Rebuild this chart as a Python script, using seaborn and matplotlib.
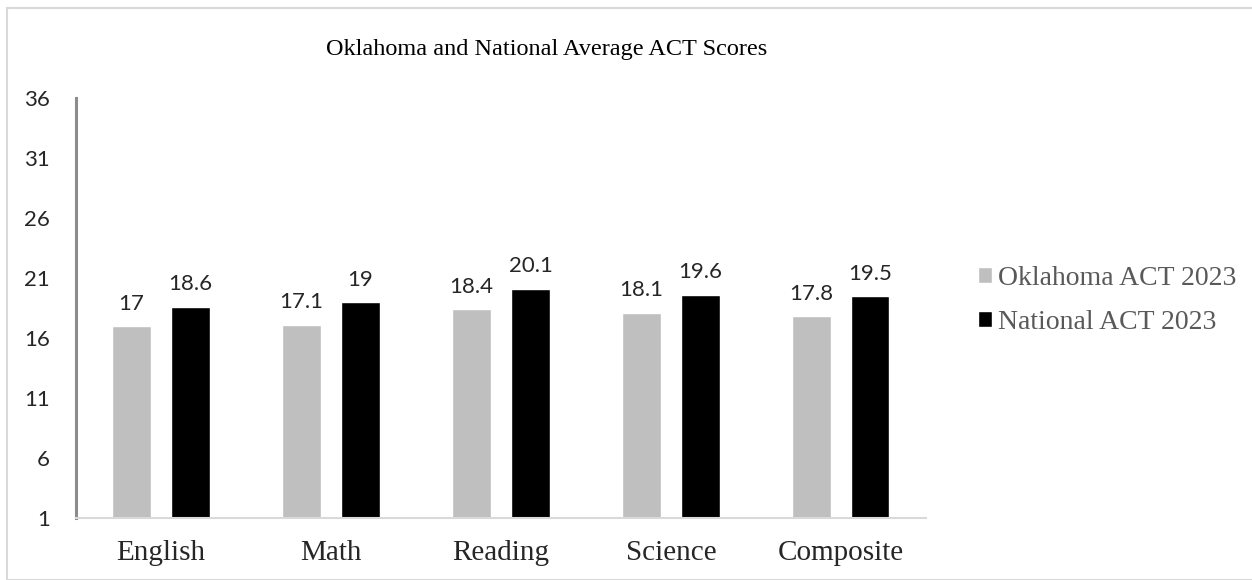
import matplotlib.pyplot as plt
import seaborn as sns
import pandas as pd
from matplotlib.patches import Rectangle

# chart data
subjects = ["English", "Math", "Reading", "Science", "Composite"]
oklahoma = [17, 17.1, 18.4, 18.1, 17.8]
national = [18.6, 19, 20.1, 19.6, 19.5]
series_names = ["Oklahoma ACT 2023", "National ACT 2023"]
y_ticks = [1, 6, 11, 16, 21, 26, 31, 36]

df = pd.DataFrame({
    "subject": subjects * 2,
    "score": oklahoma + national,
    "series": [series_names[0]] * len(subjects) + [series_names[1]] * len(subjects),
})

sns.set_theme(style="white")
plt.rcParams['font.family'] = ['Liberation Serif', 'DejaVu Serif']
num_font = ['Lato', 'DejaVu Sans']

fig = plt.figure(figsize=(12.52, 5.8), dpi=100)
ax = fig.add_axes([0.0607, 0.1069, 0.6789, 0.7241])

sns.barplot(data=df, x="subject", y="score", hue="series",
            palette=["#BFBFBF", "#000000"], width=0.694, gap=0.355,
            ax=ax, legend=True)

# axis starts at 1, so bars start there too
for patch in ax.patches:
    h = patch.get_height()
    if h > 0:
        patch.set_y(1)
        patch.set_height(h - 1)

ax.set_ylim(1, 36)
ax.set_xlim(-0.5, 4.5)
ax.set_yticks(y_ticks)
ax.set_yticklabels([str(t) for t in y_ticks], family=num_font, fontsize=16)
ax.tick_params(axis='y', length=0, pad=19)
ax.tick_params(axis='x', length=0, pad=16, labelsize=21)
ax.set_xlabel("")
ax.set_ylabel("")

for i, cont in enumerate(ax.containers):
    vals = oklahoma if i == 0 else national
    ax.bar_label(cont, labels=[f"{v:g}" for v in vals], padding=9,
                 family=num_font, fontsize=16)

for side in ["top", "right"]:
    ax.spines[side].set_visible(False)
ax.spines["left"].set_color("#8C8C8C")
ax.spines["left"].set_linewidth(2.2)
ax.spines["bottom"].set_color("#D9D9D9")
ax.spines["bottom"].set_linewidth(1.5)

fig.text(0.4365, 0.914, "Oklahoma and National Average ACT Scores",
         fontsize=17.5, ha="center", va="center", color="#000000")

leg = ax.legend(loc="center left", bbox_to_anchor=(0.772, 0.482),
                bbox_transform=fig.transFigure, frameon=False,
                fontsize=20, handlelength=0.5, handleheight=0.5,
                handletextpad=0.25, labelspacing=0.7, borderaxespad=0)
for t in leg.get_texts():
    t.set_color("#595959")

# outer chart border
fig.patches.append(Rectangle((7 / 1252, 0.0), 1.0, 1 - 8 / 580,
                             transform=fig.transFigure, fill=False,
                             edgecolor="#D9D9D9", linewidth=1.5))

fig.savefig("out.png", dpi=100)
